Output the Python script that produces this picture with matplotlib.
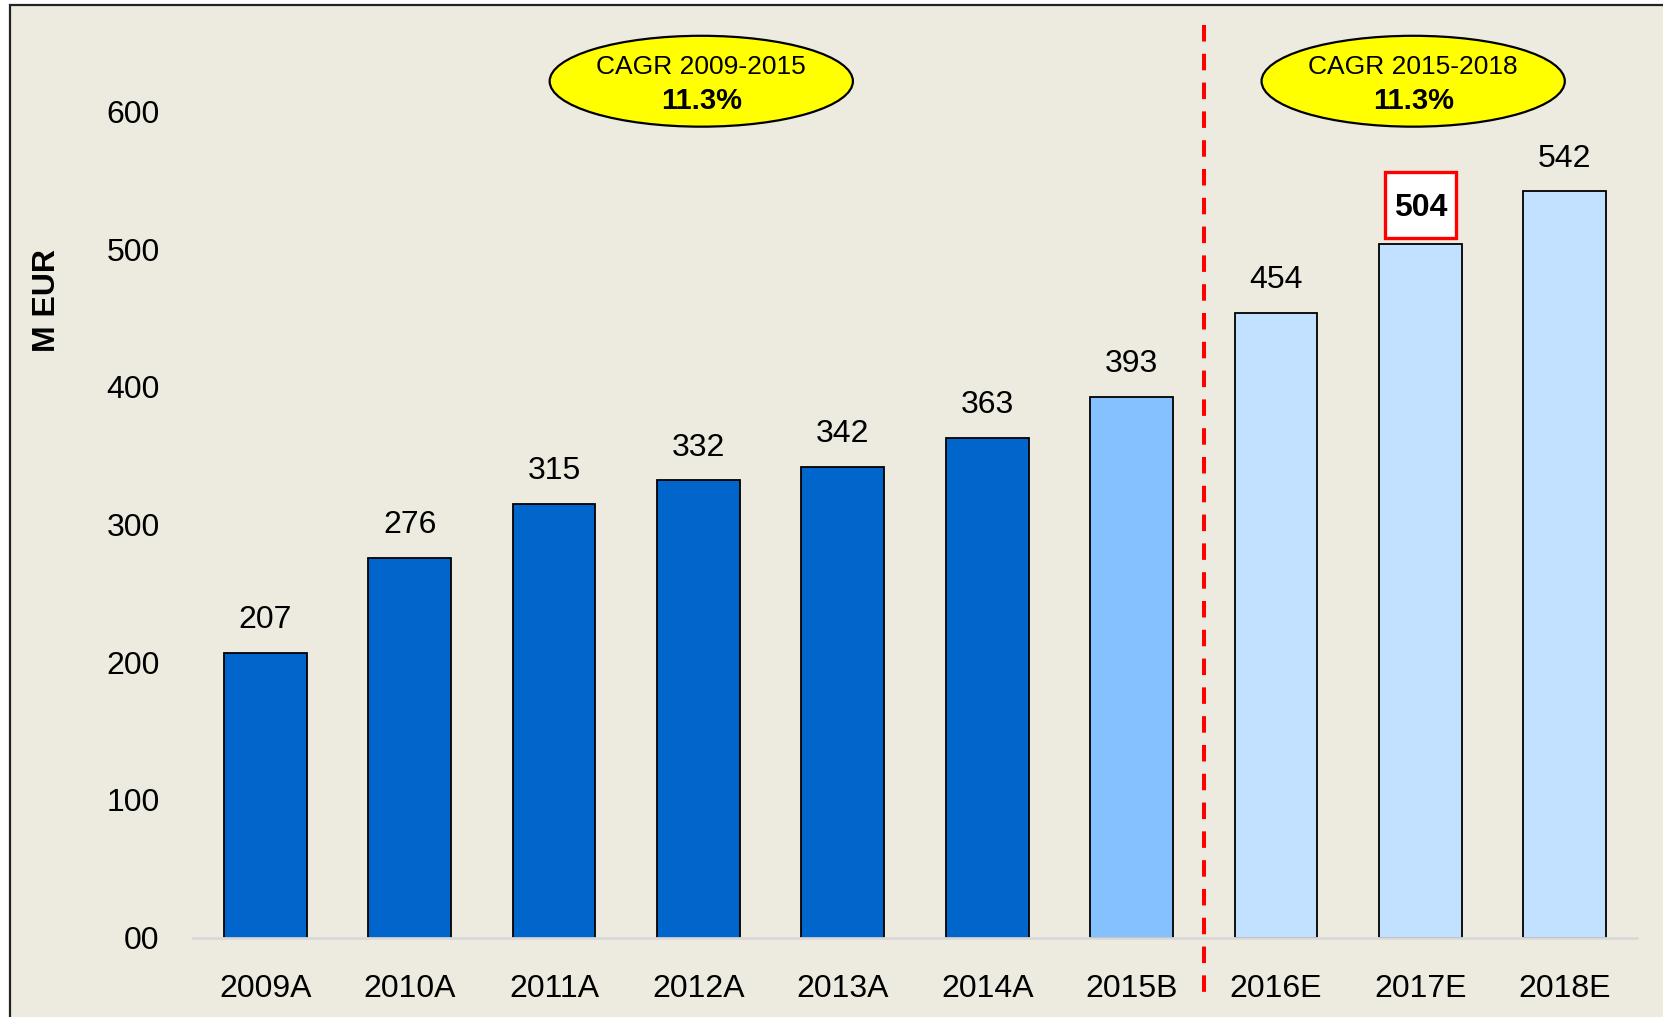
import matplotlib.pyplot as plt
from matplotlib.patches import Ellipse, Rectangle

plt.rcParams['font.family'] = ['Liberation Sans', 'DejaVu Sans']

years = ['2009A', '2010A', '2011A', '2012A', '2013A', '2014A', '2015B', '2016E', '2017E', '2018E']
values = [207, 276, 315, 332, 342, 363, 393, 454, 504, 542]
kinds = ['A', 'A', 'A', 'A', 'A', 'A', 'B', 'E', 'E', 'E']
yticks = [0, 100, 200, 300, 400, 500, 600]
ytick_labels = ['00', '100', '200', '300', '400', '500', '600']
cagr_labels = ['CAGR 2009-2015', 'CAGR 2015-2018']
cagr_values = ['11.3%', '11.3%']
highlight = '2017E'

colors = {'A': '#0066CC', 'B': '#85C1FF', 'E': '#C2E0FF'}
bg = '#EDEBE0'

fig = plt.figure(figsize=(16.63, 10.17), dpi=100, facecolor='white')
# background panel with border on top / left
fig.patches.append(Rectangle((9.5 / 1663, -0.1), 1.2, 1.1 - 5 / 1017,
                             transform=fig.transFigure, facecolor=bg,
                             edgecolor='#222222', linewidth=1.6, zorder=-10))

ax = fig.add_axes([193 / 1663, 0.0781, (1637 - 193) / 1663, 0.9219], zorder=1)
ax.set_facecolor('none')
x = list(range(len(years)))
ax.bar(x, values, width=0.574, color=[colors[k] for k in kinds],
       edgecolor='black', linewidth=1.3, zorder=3)
ax.set_xlim(-0.5, len(years) - 0.5)
ax.set_ylim(0, 681)

for s in ['top', 'right', 'left']:
    ax.spines[s].set_visible(False)
ax.spines['bottom'].set_color('#D9D9D9')
ax.spines['bottom'].set_linewidth(2)
ax.spines['bottom'].set_zorder(4)

ax.set_yticks(yticks)
ax.set_yticklabels(ytick_labels)
ax.set_xticks(x)
ax.set_xticklabels(years)
ax.tick_params(axis='y', length=0, pad=24, labelsize=23)
ax.tick_params(axis='x', length=0, pad=26, labelsize=23)
ax.set_ylabel('M EUR', fontsize=23, fontweight='bold')
ax.yaxis.set_label_coords(-0.091, 0.68)

for xi, v, y in zip(x, values, years):
    if y == highlight:
        ax.add_patch(Rectangle((xi - 0.246, v + 4), 0.492, 48, facecolor='white',
                               edgecolor='#FF0000', linewidth=2.4, zorder=5))
        ax.text(xi, v + 26, str(v), ha='center', va='center', fontsize=23,
                fontweight='bold', zorder=6)
    else:
        ax.annotate(str(v), (xi, v), xytext=(0, 23.5), textcoords='offset points',
                    ha='center', va='center', fontsize=23)

# separator between actual/budget and estimates (drawn top-down so dashes start at top)
ax.plot([6.5, 6.5], [663, -45], color='#FF0000', linestyle=(0, (4.1, 3.05)),
        linewidth=2.9, clip_on=False, zorder=2)

for cx, lab, val in zip([3.02, 7.95], cagr_labels, cagr_values):
    ax.add_patch(Ellipse((cx, 622), 2.1, 66, facecolor='#FFFF00',
                         edgecolor='black', linewidth=1.6, zorder=5, clip_on=False))
    ax.text(cx, 632, lab, ha='center', va='center', fontsize=19, zorder=6)
    ax.text(cx, 608, val, ha='center', va='center', fontsize=21,
            fontweight='bold', zorder=6)

fig.savefig('out.png', dpi=100, facecolor='white')
